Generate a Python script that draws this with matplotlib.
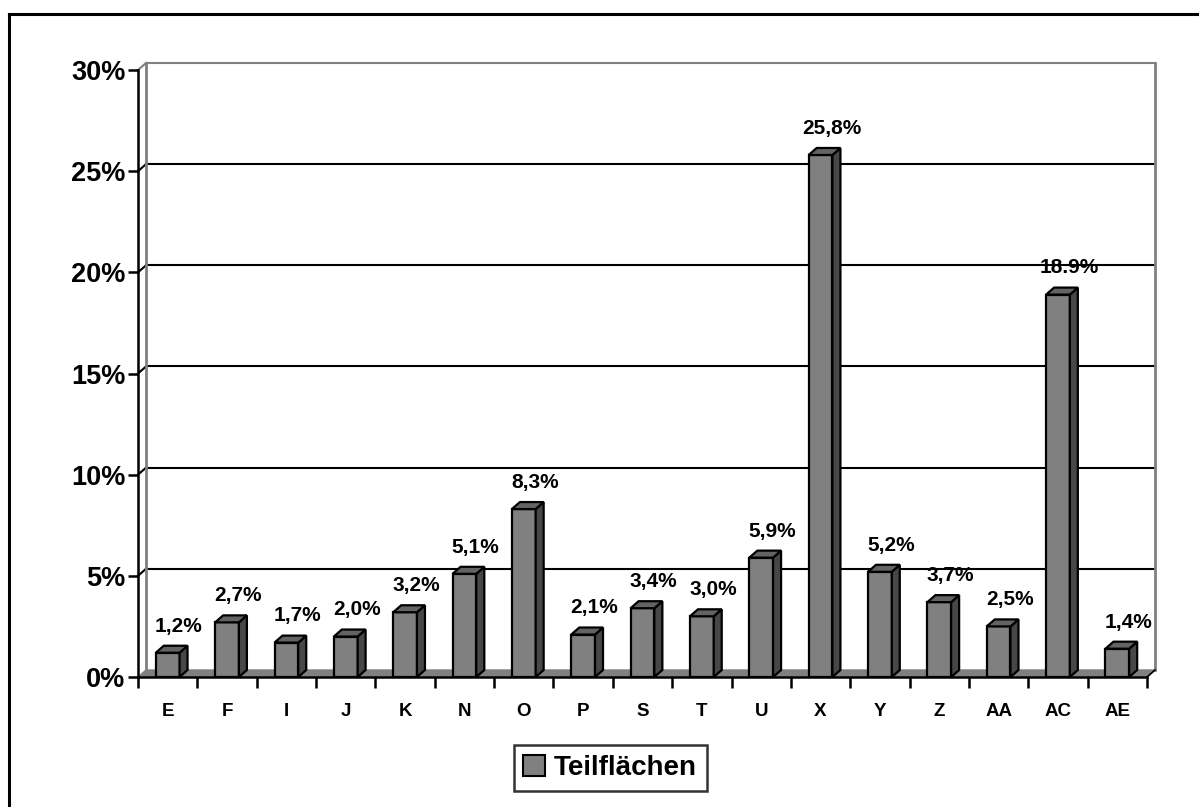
import matplotlib
matplotlib.use("Agg")
import matplotlib.pyplot as plt
from matplotlib.patches import Polygon, Patch
from matplotlib.lines import Line2D

categories = ["E", "F", "I", "J", "K", "N", "O", "P", "S", "T", "U",
              "X", "Y", "Z", "AA", "AC", "AE"]
values = [1.2, 2.7, 1.7, 2.0, 3.2, 5.1, 8.3, 2.1, 3.4, 3.0, 5.9,
          25.8, 5.2, 3.7, 2.5, 18.9, 1.4]
value_labels = ["1,2%", "2,7%", "1,7%", "2,0%", "3,2%", "5,1%", "8,3%",
                "2,1%", "3,4%", "3,0%", "5,9%", "25,8%", "5,2%", "3,7%",
                "2,5%", "18.9%", "1,4%"]
y_ticks = [0, 5, 10, 15, 20, 25, 30]
y_tick_labels = ["0%", "5%", "10%", "15%", "20%", "25%", "30%"]
series_name = "Teilflächen"

plt.rcParams["font.family"] = ["Liberation Sans", "DejaVu Sans"]
plt.rcParams["font.weight"] = "bold"

W, H = 1199, 807
fig = plt.figure(figsize=(W / 100, H / 100), dpi=100)
fig.patch.set_facecolor("white")

# plot area (front plane) in pixels
x0, x1 = 138, 1147
y0, y1 = 677, 70
ax = fig.add_axes([x0 / W, (H - y0) / H, (x1 - x0) / W, (y0 - y1) / H])
n = len(categories)
ax.set_xlim(-0.5, n - 0.5)
ax.set_ylim(0, 30)
ax.set_facecolor("none")

# depth offset of the back wall, in data units
dx = 8 / (x1 - x0) * n
dy = 7 / (y0 - y1) * 30

front_c = "#808080"
side_c = "#474747"
top_c = "#636363"
wall_c = "#808080"

left, right = -0.5, n - 0.5

# floor
floor = Polygon([(left, 0), (right, 0), (right + dx, dy), (left + dx, dy)],
                closed=True, facecolor=wall_c, edgecolor=wall_c, lw=1,
                clip_on=False, zorder=1)
ax.add_patch(floor)

# back wall edges and gridlines
for v in y_ticks[1:]:
    c = "black" if v < 30 else wall_c
    ax.add_line(Line2D([left + dx, right + dx], [v + dy, v + dy], color=c,
                       lw=1.5, clip_on=False, zorder=1))
    ax.add_line(Line2D([left, left + dx], [v, v + dy], color=c,
                       lw=1.5, clip_on=False, zorder=1))
ax.add_line(Line2D([left + dx, left + dx], [dy, 30 + dy], color=wall_c,
                   lw=2, clip_on=False, zorder=1))
ax.add_line(Line2D([right + dx, right + dx], [dy, 30 + dy], color=wall_c,
                   lw=2, clip_on=False, zorder=1))
ax.add_line(Line2D([right, right + dx], [0, dy], color="black",
                   lw=1.2, clip_on=False, zorder=2))

# 3-D columns
bw = 0.40
xs = list(range(n))
edge_w = 1.6
ax.bar(xs, values, width=bw, color=front_c, edgecolor="black", lw=edge_w,
       zorder=3)
for x, v, lab in zip(xs, values, value_labels):
    l, r = x - bw / 2, x + bw / 2
    side = Polygon([(r, 0), (r + dx, dy), (r + dx, v + dy), (r, v)],
                   closed=True, facecolor=side_c, edgecolor="black",
                   lw=edge_w, zorder=3, clip_on=False)
    top = Polygon([(l, v), (r, v), (r + dx, v + dy), (l + dx, v + dy)],
                  closed=True, facecolor=top_c, edgecolor="black",
                  lw=edge_w, zorder=3, clip_on=False)
    ax.add_patch(side)
    ax.add_patch(top)
    ax.text(x + dx / 2 + 0.12, v + dy + 0.5, lab, ha="center", va="bottom",
            fontsize=15, fontweight="bold", zorder=4, clip_on=False)

# axes
for s in ["top", "right"]:
    ax.spines[s].set_visible(False)
ax.spines["left"].set_linewidth(1.8)
ax.spines["bottom"].set_linewidth(1.8)
ax.spines["left"].set_zorder(5)
ax.spines["bottom"].set_zorder(5)
ax.set_yticks(y_ticks)
ax.set_yticklabels(y_tick_labels, fontsize=19.5, fontweight="bold")
ax.tick_params(axis="y", direction="out", length=7, width=1.8, pad=2)
ax.set_xticks(xs)
ax.set_xticklabels(categories, fontsize=13.5, fontweight="bold")
ax.set_xticks([i - 0.5 for i in range(n + 1)], minor=True)
ax.tick_params(axis="x", which="major", length=0, pad=19)
ax.tick_params(axis="x", which="minor", direction="out", length=8, width=1.8)

# legend
handle = Patch(facecolor=front_c, edgecolor="black", lw=1.5)
leg = fig.legend([handle], [series_name], loc="center",
                 bbox_to_anchor=(610 / W, (H - 768) / H), frameon=True,
                 fancybox=False, prop={"size": 20, "weight": "bold"},
                 handlelength=0.8, handleheight=0.8, handletextpad=0.3,
                 borderpad=0.35)
leg.get_frame().set_edgecolor("black")
leg.get_frame().set_linewidth(1.8)

# chart border
fig.add_artist(Line2D([9 / W, 1], [(H - 14) / H, (H - 14) / H],
                      color="black", lw=2.2, transform=fig.transFigure))
fig.add_artist(Line2D([9 / W, 9 / W], [0, (H - 14) / H],
                      color="black", lw=2.2, transform=fig.transFigure))

fig.savefig("out.png", dpi=100)
